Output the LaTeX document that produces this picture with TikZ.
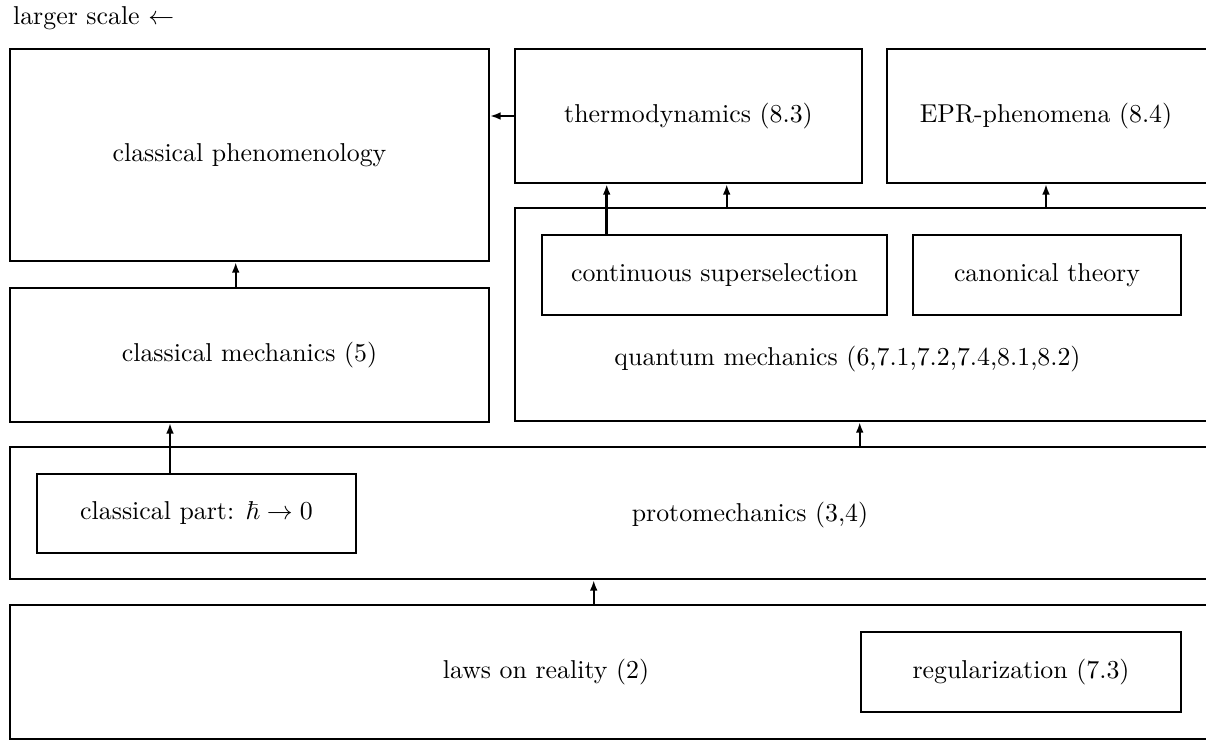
\documentclass[tikz,border=0pt]{standalone}
\usepackage{amssymb}
\usepackage{tikz}
\usetikzlibrary{arrows.meta}
\usetikzlibrary{calc}

\tikzset{
  box/.style 2 args={draw,line width=1pt,inner sep=0pt,
    minimum width=#1*0.387pt,minimum height=#2*0.387pt},
  up/.style={line width=0.7pt,-{Latex[length=4pt,width=3pt]}},
  upthick/.style={line width=1pt,-{Latex[length=4pt,width=3pt]}}
}

\begin{document}
\begin{tikzpicture}[line cap=butt,line join=miter,x=0.387pt,y=-0.387pt]
\useasboundingbox (0,0) rectangle (1206,742);
\clip (0,0) rectangle (1206,742);
\node[anchor=west] (scale) at (4,18) {larger scale $\leftarrow$};
% top row
\node[box={479}{212}] (phen) at (249.5,155) {classical phenomenology};
\node[box={347}{134}] (thermo) at (688.5,116) {thermodynamics (8.3)};
\node[box={340}{134}] (epr) at (1057,116) {};
\node (eprtext) at (1046,116) {EPR-phenomena (8.4)};
% middle
\node[box={479}{134}] (clmech) at (249.5,355) {classical mechanics (5)};
\node[box={740}{213}] (qm) at (885,314.5) {};
\node (qmtext) at (847.5,359) {quantum mechanics (6,7.1,7.2,7.4,8.1,8.2)};
\node[box={345}{80}] (super) at (714.5,275) {continuous superselection};
\node[box={268}{80}] (canon) at (1047,275) {canonical theory};
% protomechanics
\node[box={1240}{132}] (proto) at (630,513) {};
\node (prototext) at (750,515) {protomechanics (3,4)};
\node[box={319}{79}] (clpart) at (196.5,513.5) {classical part: $\hbar\rightarrow0$};
% laws
\node[box={1240}{134}] (laws) at (630,672) {};
\node (lawstext) at (546,672) {laws on reality (2)};
\node[box={320}{80}] (reg) at (1021,672) {regularization (7.3)};
% arrows
\draw[up] (thermo.west) -- (thermo.west -| phen.east);
\draw[up] ($(clmech.north west)+(227,0)$) coordinate (a1) -- (a1 |- phen.south);
\draw[upthick] ($(super.north west)+(66,0)$) coordinate (a2) -- (a2 |- thermo.south);
\draw[up] ($(qm.north west)+(213,0)$) coordinate (a3) -- (a3 |- thermo.south);
\draw[up] (qm.north -| eprtext.south) -- (eprtext.south |- epr.south);
\draw[up] (clpart.north -| 170,0) coordinate (a4) -- (a4 |- clmech.south);
\draw[up] ($(proto.north west)+(851,0)$) coordinate (a5) -- (a5 |- qm.south);
\draw[up] ($(laws.north west)+(585,0)$) coordinate (a6) -- (a6 |- proto.south);
\end{tikzpicture}
\end{document}
